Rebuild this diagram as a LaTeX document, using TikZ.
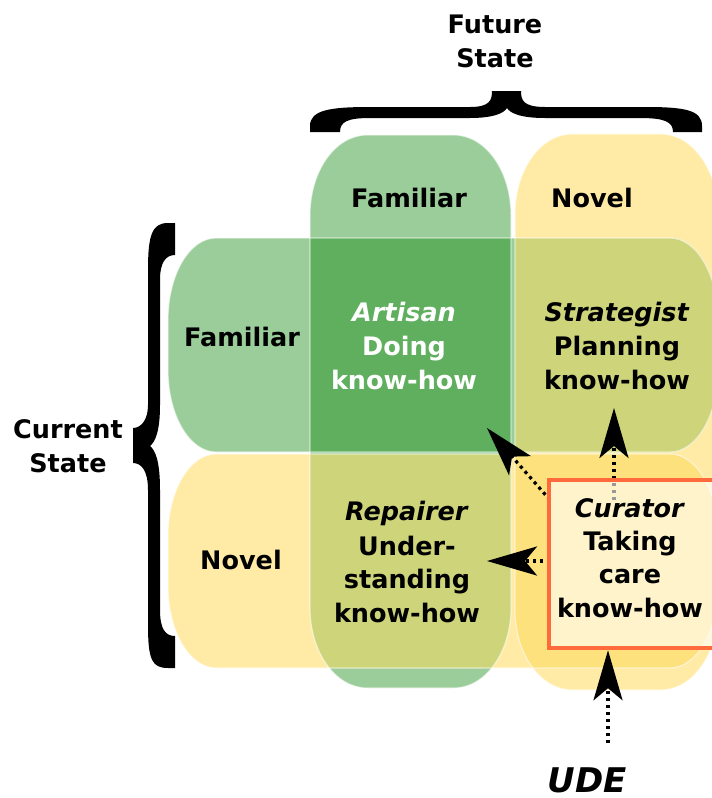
\documentclass[tikz,border=0pt]{standalone}
\usepackage{fontspec}
\setmainfont{DejaVu Sans}[BoldFont={DejaVu Sans Bold},ItalicFont={DejaVu Sans Oblique},BoldItalicFont={DejaVu Sans Bold Oblique}]
\usetikzlibrary{arrows.meta}
\definecolor{lgreen}{HTML}{9BCD9B}
\definecolor{dgreen}{HTML}{5FAF5F}
\definecolor{lyellow}{HTML}{FFEBA6}
\definecolor{dyellow}{HTML}{FDE17D}
\definecolor{olivex}{HTML}{CDD47A}
\definecolor{boxred}{HTML}{FF6A3D}
\begin{document}
\begin{tikzpicture}[x=1pt,y=-1pt,
  lbl/.style={anchor=base, inner sep=0pt, font=\fontsize{25.5}{30}\selectfont\bfseries},
  pill/.style n args={6}{insert path={(#1+#5,#2) -- (#3-#5,#2)
     arc[start angle=90,end angle=0,x radius=#5pt,y radius=#6pt] -- (#3,#4-#6)
     arc[start angle=0,end angle=-90,x radius=#5pt,y radius=#6pt] -- (#1+#5,#4)
     arc[start angle=270,end angle=180,x radius=#5pt,y radius=#6pt] -- (#1,#2+#6)
     arc[start angle=180,end angle=90,x radius=#5pt,y radius=#6pt] -- cycle}},
  gcolp/.style={pill={310}{135}{511}{688}{57}{80}},
  ycolp/.style={pill={515}{134}{718}{690}{57}{80}},
  growp/.style={pill={168}{238}{718}{452}{48}{82}},
  yrowp/.style={pill={168}{454}{718}{668}{48}{82}},
  outline/.style={draw=white, draw opacity=0.55, line width=1.2pt},
  arr/.style={line width=3.2pt, dash pattern=on 3.2pt off 3.8pt, -{Stealth[length=50pt,width=29pt,inset=12pt]}},
  curbox/.style={draw=boxred, line width=4.5pt, fill=white, fill opacity=0.6, minimum width=174pt, minimum height=168pt, inner sep=0pt}
]
\useasboundingbox (0,0) rectangle (712,798);
\clip (0,0) rectangle (712,798);
% single fills
\fill[lgreen, gcolp];
\fill[lyellow, ycolp];
\fill[lgreen, growp];
\fill[lyellow, yrowp];
% overlaps
\begin{scope}
  \clip[gcolp];
  \fill[dgreen, growp];
  \fill[olivex, yrowp];
\end{scope}
\begin{scope}
  \clip[ycolp];
  \fill[olivex, growp];
  \fill[dyellow, yrowp];
\end{scope}
% outlines
\path[outline, gcolp];
\path[outline, ycolp];
\path[outline, growp];
\path[outline, yrowp];
% braces
\fill[black] (310,132) -- (310,126) .. controls (310,110) and (330,107) .. (370,107) -- (470,107)
  .. controls (490,107) and (492,100) .. (492,91) -- (521,91)
  .. controls (521,100) and (523,107) .. (545,107) -- (645,107)
  .. controls (685,107) and (702,110) .. (702,126) -- (702,132) -- (673,132)
  .. controls (673,122) and (665,118) .. (640,118) -- (545,118)
  .. controls (520,118) and (510,113) .. (507,108)
  .. controls (504,113) and (494,118) .. (470,118) -- (370,118)
  .. controls (347,118) and (340,122) .. (340,132) -- cycle;
\fill[black] (175,223) -- (168,223) .. controls (152,223) and (148,235) .. (148,270) -- (148,405)
  .. controls (148,420) and (141,428) .. (133,428) -- (133,463)
  .. controls (141,463) and (148,470) .. (148,490) -- (148,625)
  .. controls (148,660) and (152,668) .. (168,668) -- (175,668) -- (175,636)
  .. controls (166,636) and (160,630) .. (160,610) -- (160,490)
  .. controls (160,460) and (155,450) .. (150,446)
  .. controls (155,442) and (160,432) .. (160,405) -- (160,280)
  .. controls (160,262) and (166,255) .. (175,255) -- cycle;
% arrow end points
\coordinate (upS) at (614,500);
\coordinate (upT) at (614,408);
\coordinate (diagS) at (550,500);
\coordinate (diagT) at (487,428);
\coordinate (leftS) at (550,561);
\coordinate (leftT) at (487,561);
\coordinate (udeS) at (608,743);
\draw[arr] (upS) -- (upT);
\draw[arr] (diagS) -- (diagT);
\draw[arr] (leftS) -- (leftT);
% curator box
\node[curbox] (cur) at (636,564) {};
\draw[arr] (udeS) -- (udeS |- cur.south);
% texts
\node[lbl] (fut1) at (495,33) {Future};
\node[lbl] (fut2) at (495,67) {State};
\node[lbl] (cur1) at (68,438) {Current};
\node[lbl] (cur2) at (68,472) {State};
\node[lbl] (famrow) at (242,346) {Familiar};
\node[lbl] (novrow) at (241,569) {Novel};
\node[lbl] (famcol) at (409,207) {Familiar};
\node[lbl] (novcol) at (592,207) {Novel};
\node[lbl, text=white] (art1) at (404,321) {\textit{Artisan}};
\node[lbl, text=white] (art2) at (404,355) {Doing};
\node[lbl, text=white] (art3) at (404,389) {know-how};
\node[lbl] (str1) at (617,321) {\textit{Strategist}};
\node[lbl] (str2) at (617,355) {Planning};
\node[lbl] (str3) at (617,389) {know-how};
\node[lbl] (rep1) at (407,520) {\textit{Repairer}};
\node[lbl] (rep2) at (407,555) {Under-};
\node[lbl] (rep3) at (407,588) {standing};
\node[lbl] (rep4) at (407,622) {know-how};
\node[lbl] (cu1) at (630,517) {\textit{Curator}};
\node[lbl] (cu2) at (630,550) {Taking};
\node[lbl] (cu3) at (630,583) {care};
\node[lbl] (cu4) at (630,617) {know-how};
\node[lbl, font=\fontsize{34}{40}\selectfont\bfseries\itshape] (ude) at (587,792) {UDE};
\end{tikzpicture}
\end{document}
